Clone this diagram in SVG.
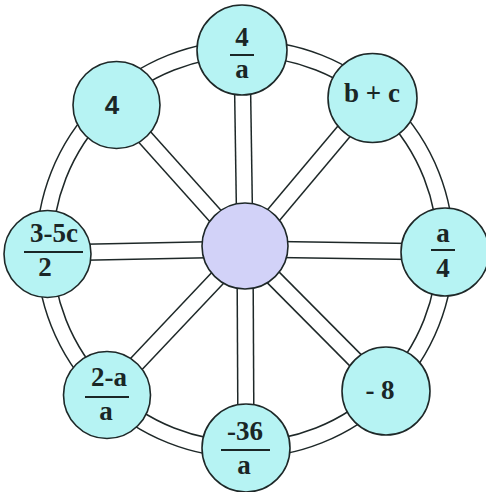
<svg xmlns="http://www.w3.org/2000/svg" width="486" height="492" viewBox="0 0 486 492">
<style>
.out{fill:none;stroke:#1e2828;stroke-width:17.5}
.in{fill:none;stroke:#ffffff;stroke-width:14.5}
.node{fill:#b6f3f3;stroke:#1e2828;stroke-width:1.6}
.hub{fill:#d2d2f8;stroke:#1e2828;stroke-width:1.6}
.t{font-family:"Liberation Serif","Times New Roman",serif;font-weight:bold;font-size:27px;fill:#1a2626;text-anchor:middle}
.s{font-family:"Liberation Sans",Arial,sans-serif;font-weight:bold;font-size:26px;fill:#1a2626;text-anchor:middle}
.bar{stroke:#1a2626;stroke-width:2}
</style>
<rect width="486" height="492" fill="#ffffff"/>
<g id="connectors">
<circle class="out" cx="245" cy="249" r="200.5"/>
<circle class="in" cx="245" cy="249" r="200.5"/>
<g class="out">
<line x1="245" y1="249" x2="242" y2="50"/>
<line x1="245" y1="249" x2="372" y2="98"/>
<line x1="245" y1="249" x2="445" y2="252"/>
<line x1="245" y1="249" x2="386" y2="391"/>
<line x1="245" y1="249" x2="246" y2="448"/>
<line x1="245" y1="249" x2="107" y2="395"/>
<line x1="245" y1="249" x2="47" y2="253"/>
<line x1="245" y1="249" x2="116" y2="105"/>
</g>
<g class="in">
<line x1="245" y1="249" x2="242" y2="50"/>
<line x1="245" y1="249" x2="372" y2="98"/>
<line x1="245" y1="249" x2="445" y2="252"/>
<line x1="245" y1="249" x2="386" y2="391"/>
<line x1="245" y1="249" x2="246" y2="448"/>
<line x1="245" y1="249" x2="107" y2="395"/>
<line x1="245" y1="249" x2="47" y2="253"/>
<line x1="245" y1="249" x2="116" y2="105"/>
</g>
</g>
<g id="hub"><circle class="hub" cx="245" cy="246" r="43"/></g>
<g id="n-top">
<circle class="node" cx="242" cy="50" r="45"/>
<text class="t" x="242" y="46">4</text>
<line class="bar" x1="230" y1="55" x2="254" y2="55"/>
<text class="t" x="242" y="78">a</text>
</g>
<g id="n-topright">
<circle class="node" cx="372.5" cy="98" r="44.5"/>
<text class="t" x="372" y="102">b + c</text>
</g>
<g id="n-right">
<circle class="node" cx="445" cy="252" r="44"/>
<text class="t" x="443" y="242">a</text>
<line class="bar" x1="431" y1="250" x2="455" y2="250"/>
<text class="t" x="443" y="277">4</text>
</g>
<g id="n-bottomright">
<circle class="node" cx="386" cy="391" r="44"/>
<text class="t" x="380" y="399">- 8</text>
</g>
<g id="n-bottom">
<circle class="node" cx="246" cy="448" r="44"/>
<text class="t" x="245" y="440">-36</text>
<line class="bar" x1="221" y1="450" x2="270" y2="450"/>
<text class="t" x="244" y="474">a</text>
</g>
<g id="n-bottomleft">
<circle class="node" cx="107" cy="395" r="43.5"/>
<text class="t" x="109" y="386">2-a</text>
<line class="bar" x1="85" y1="397" x2="129" y2="397"/>
<text class="t" x="106" y="420">a</text>
</g>
<g id="n-left">
<circle class="node" cx="47.5" cy="254" r="43.5"/>
<text class="t" x="54" y="242">3-5c</text>
<line class="bar" x1="24" y1="252" x2="83" y2="252"/>
<text class="t" x="45" y="276">2</text>
</g>
<g id="n-topleft">
<circle class="node" cx="116.5" cy="105" r="43.5"/>
<text class="s" x="112" y="114">4</text>
</g>
</svg>
